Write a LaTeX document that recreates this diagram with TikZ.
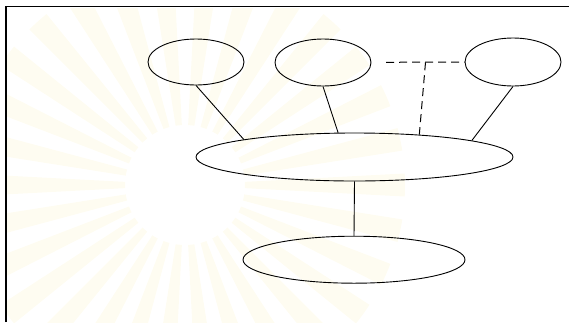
\documentclass[tikz,border=0pt]{standalone}
\usetikzlibrary{shapes.geometric}
\definecolor{rayc}{RGB}{254,252,241}
\begin{document}
\begin{tikzpicture}[x=1pt,y=-1pt,
  blob/.style={draw=black,line width=0.9pt,ellipse,inner sep=0pt,fill=none},
  link/.style={draw=black,line width=0.9pt},
  dlink/.style={draw=black,line width=1pt,dash pattern=on 8pt off 5pt},
  frame/.style={draw=black,line width=1.5pt}]
\useasboundingbox (0,0) rectangle (569,322);
% faint watermark rays
\begin{scope}
  \clip (7,8) rectangle (569,322);
  \foreach \a in {0,12,...,348}{
    \fill[rayc] (185,185) ++(\a-3:60) arc[start angle=\a-3,end angle=\a+3,radius=60]
      -- ++(\a+3:160) arc[start angle=\a+3,end angle=\a-3,radius=220] -- cycle;
  }
\end{scope}
% frame
\draw[frame] (6,322) -- (6,6.7) -- (569,6.7);
% nodes
\node[blob,minimum width=96pt,minimum height=46pt] (e1) at (196,62) {};
\node[blob,minimum width=96pt,minimum height=47pt] (e2) at (323,62.5) {};
\node[blob,minimum width=96pt,minimum height=48pt] (e3) at (513,62) {};
\node[blob,minimum width=317pt,minimum height=48pt] (e4) at (354.5,157) {};
\node[blob,minimum width=222pt,minimum height=47pt] (e5) at (354,259.7) {};
% connectors
\draw[link] (e1.south) -- (e4.171.4);
\draw[link] (e2.south) -- (e4.124.8);
\draw[link] (e3.south) -- (e4.8.6);
\draw[link] (e4.south) -- (e5.north);
\coordinate (d1) at (386,62.3);
\coordinate (dj) at (425.5,62.3);
\draw[dlink] (d1) -- (e3.west);
\draw[dlink] (dj) -- (e4.19.1);
\end{tikzpicture}
\end{document}
